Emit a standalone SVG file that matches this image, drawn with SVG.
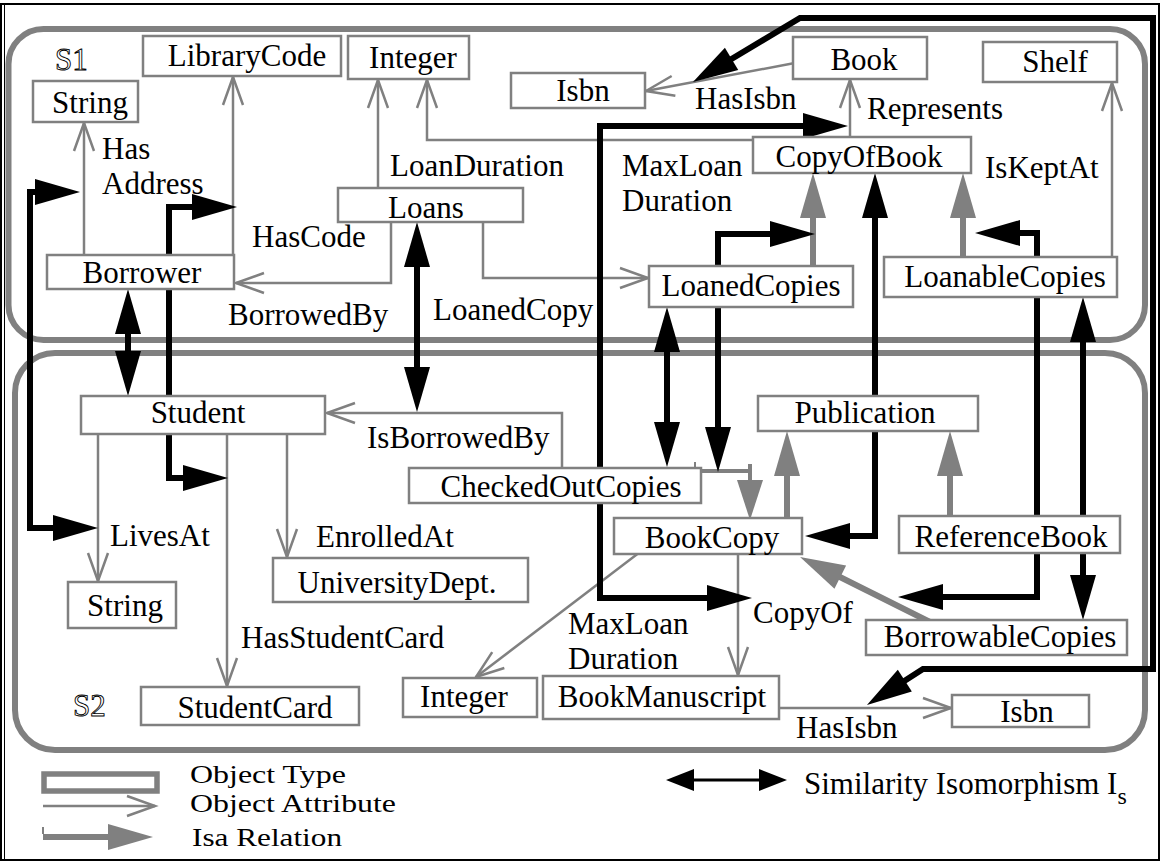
<svg xmlns="http://www.w3.org/2000/svg" width="1163" height="863" viewBox="0 0 1163 863">
  <style>
    .t { font-family: "Liberation Serif", "Times New Roman", serif; font-size: 31px; fill: #000; }
    .c { text-anchor: middle; }
    .lg { font-size: 25px; }
    .box { fill: #fff; stroke: #808080; stroke-width: 2.5; }
    .region { fill: none; stroke: #808080; stroke-width: 6; }
    .attr { fill: none; stroke: #808080; stroke-width: 2.5; marker-end: url(#open); }
    .isa { fill: none; stroke: #808080; stroke-width: 6; marker-end: url(#isa); }
    .sim { fill: none; stroke: #000; stroke-width: 6; marker-start: url(#blk); marker-end: url(#blk); }
    .sym { font-family: "Liberation Serif", "Times New Roman", serif; font-size: 31px; fill: #fff; stroke: #000; stroke-width: 0.9; }
  </style>
  <defs>
    <!-- open arrowhead for object attributes: tip sits on the path end -->
    <marker id="open" markerUnits="userSpaceOnUse" viewBox="-31 -13 35 26" refX="0" refY="0" markerWidth="35" markerHeight="26" orient="auto" overflow="visible">
      <path d="M-28,-10 L0,0 L-28,10" fill="none" stroke="#808080" stroke-width="2.5"/>
    </marker>
    <!-- filled heads: tip lies 25 units beyond the path end -->
    <marker id="blk" markerUnits="userSpaceOnUse" viewBox="-21 -14 48 28" refX="0" refY="0" markerWidth="48" markerHeight="28" orient="auto-start-reverse" overflow="visible">
      <path d="M-20,-13 L25,0 L-20,13 Z" fill="#000"/>
    </marker>
    <marker id="isa" markerUnits="userSpaceOnUse" viewBox="-21 -14 48 28" refX="0" refY="0" markerWidth="48" markerHeight="28" orient="auto" overflow="visible">
      <path d="M-20,-13 L25,0 L-20,13 Z" fill="#808080"/>
    </marker>
    <marker id="blkS" markerUnits="userSpaceOnUse" viewBox="-15 -12 30 24" refX="0" refY="0" markerWidth="30" markerHeight="24" orient="auto-start-reverse" overflow="visible">
      <path d="M-14,-11 L14,0 L-14,11 Z" fill="#000"/>
    </marker>
  </defs>

  <rect x="0" y="0" width="1163" height="863" fill="#fff"/>
  <!-- outer frame -->
  <rect x="1" y="4" width="1158" height="856" fill="none" stroke="#000" stroke-width="2"/>
  <line x1="4.5" y1="4" x2="4.5" y2="860" stroke="#000" stroke-width="1"/>

  <!-- schema regions -->
  <g id="schema-s1">
    <rect class="region" x="8.5" y="29" width="1136.5" height="311" rx="35" ry="35"/>
    <text class="sym" x="55" y="70">S1</text>
  </g>
  <g id="schema-s2">
    <rect class="region" x="15" y="353" width="1130" height="397" rx="40" ry="40"/>
    <text class="sym" x="73" y="716">S2</text>
  </g>

  <g id="connectors">
    <!-- object attributes -->
    <path class="attr" d="M84,255 L84,123"/>
    <path class="attr" d="M233,255 L233,77"/>
    <path class="attr" d="M378,188 L378,80"/>
    <path class="attr" d="M391,222 L391,283 L236,283"/>
    <path class="attr" d="M483,222 L483,278 L648,278"/>
    <path class="attr" d="M753,140 L427,140 L427,80"/>
    <path class="attr" d="M800,62 L646,91"/>
    <path class="attr" d="M850,137 L850,80"/>
    <path class="attr" d="M1112,257 L1112,83"/>
    <path class="attr" d="M98,434 L98,581"/>
    <path class="attr" d="M227,434 L227,686"/>
    <path class="attr" d="M287,434 L287,557"/>
    <path class="attr" d="M562,468 L562,413 L327,413"/>
    <path class="attr" d="M640,552 L476,677"/>
    <path class="attr" d="M738,554 L738,675"/>
    <path class="attr" d="M780,708 L951,708"/>

    <!-- isa relations -->
    <path class="isa" d="M813,266 L813,198"/>
    <path class="isa" d="M963,257 L963,198"/>
    <path class="isa" d="M787,518 L787,456"/>
    <path class="isa" d="M950,516 L950,456"/>
    <path class="isa" d="M930,622 L822.4,568.2"/>
    <line x1="695" y1="462" x2="695" y2="471" stroke="#808080" stroke-width="2"/>
    <line x1="695" y1="471" x2="750" y2="471" stroke="#808080" stroke-width="4"/>
    <line x1="750" y1="464" x2="750" y2="482" stroke="#808080" stroke-width="4"/>
    <polygon points="737,480 763,480 750,520" fill="#808080"/>

    <!-- similarity isomorphism -->
    <path class="sim" d="M128,314 L128,371"/>
    <path class="sim" d="M55,192 L30,192 L30,528 L73,528"/>
    <path class="sim" d="M212,207 L169,207 L169,478 L203,478"/>
    <path class="sim" d="M417,247 L417,387"/>
    <path class="sim" d="M667,332 L667,442"/>
    <path class="sim" d="M790,234 L718,234 L718,447" stroke-width="8"/>
    <path class="sim" d="M823,126 L600,126 L600,598 L727,598"/>
    <path class="sim" d="M875,198 L875,536 L830,536"/>
    <path class="sim" d="M1000,233 L1037,233 L1037,597 L923,597"/>
    <path class="sim" d="M1083,322 L1083,595"/>
    <path class="sim" d="M714.4,69.2 L800,18 L1153,18 L1153,669 L923,669 L888,691.5"/>
  </g>

  <!-- S1 object types -->
  <g id="n-string1"><rect class="box" x="33" y="81" width="105" height="41"/><text class="t c" x="90" y="113">String</text></g>
  <g id="n-librarycode"><rect class="box" x="143" y="36" width="198" height="40"/><text class="t c" x="247" y="66">LibraryCode</text></g>
  <g id="n-integer1"><rect class="box" x="348" y="36" width="121" height="43"/><text class="t c" x="413" y="68">Integer</text></g>
  <g id="n-isbn1"><rect class="box" x="511" y="73" width="134" height="35"/><text class="t c" x="583" y="101">Isbn</text></g>
  <g id="n-book"><rect class="box" x="793" y="37" width="134" height="42"/><text class="t c" x="864" y="70">Book</text></g>
  <g id="n-shelf"><rect class="box" x="983" y="42" width="134" height="40"/><text class="t c" x="1055" y="72">Shelf</text></g>
  <g id="n-copyofbook"><rect class="box" x="753" y="137" width="218" height="36"/><text class="t c" x="859" y="167">CopyOfBook</text></g>
  <g id="n-loans"><rect class="box" x="338" y="188" width="185" height="34"/><text class="t c" x="426" y="218">Loans</text></g>
  <g id="n-borrower"><rect class="box" x="47" y="255" width="187" height="34"/><text class="t c" x="142" y="283">Borrower</text></g>
  <g id="n-loanedcopies"><rect class="box" x="649" y="266" width="204" height="41"/><text class="t c" x="751" y="296">LoanedCopies</text></g>
  <g id="n-loanablecopies"><rect class="box" x="884" y="257" width="233" height="40"/><text class="t c" x="1005" y="287">LoanableCopies</text></g>

  <!-- S2 object types -->
  <g id="n-student"><rect class="box" x="81" y="396" width="244" height="38"/><text class="t c" x="198" y="423">Student</text></g>
  <g id="n-publication"><rect class="box" x="758" y="396" width="220" height="35"/><text class="t c" x="865" y="423">Publication</text></g>
  <g id="n-checkedoutcopies"><rect class="box" x="409" y="468" width="292" height="35"/><text class="t c" x="561" y="497">CheckedOutCopies</text></g>
  <g id="n-bookcopy"><rect class="box" x="614" y="518" width="188" height="36"/><text class="t c" x="712" y="548">BookCopy</text></g>
  <g id="n-referencebook"><rect class="box" x="899" y="516" width="221" height="37"/><text class="t c" x="1011" y="547">ReferenceBook</text></g>
  <g id="n-string2"><rect class="box" x="68" y="582" width="108" height="46"/><text class="t c" x="125" y="616">String</text></g>
  <g id="n-universitydept"><rect class="box" x="273" y="558" width="255" height="44"/><text class="t c" x="397" y="593">UniversityDept.</text></g>
  <g id="n-borrowablecopies"><rect class="box" x="866" y="620" width="261" height="35"/><text class="t c" x="1000" y="647">BorrowableCopies</text></g>
  <g id="n-studentcard"><rect class="box" x="141" y="687" width="218" height="38"/><text class="t c" x="255" y="718">StudentCard</text></g>
  <g id="n-integer2"><rect class="box" x="403" y="678" width="134" height="39"/><text class="t c" x="464" y="707">Integer</text></g>
  <g id="n-bookmanuscript"><rect class="box" x="543" y="676" width="236" height="43"/><text class="t c" x="662" y="707">BookManuscript</text></g>
  <g id="n-isbn2"><rect class="box" x="952" y="695" width="137" height="32"/><text class="t c" x="1027" y="722">Isbn</text></g>

  <!-- attribute labels -->
  <g id="labels">
    <text class="t" x="102" y="159">Has</text>
    <text class="t" x="102" y="194">Address</text>
    <text class="t" x="252" y="247">HasCode</text>
    <text class="t" x="390" y="176">LoanDuration</text>
    <text class="t" x="228" y="325">BorrowedBy</text>
    <text class="t" x="433" y="320">LoanedCopy</text>
    <text class="t" x="622" y="176">MaxLoan</text>
    <text class="t" x="622" y="211">Duration</text>
    <text class="t" x="695" y="109">HasIsbn</text>
    <text class="t" x="867" y="119">Represents</text>
    <text class="t" x="985" y="178">IsKeptAt</text>
    <text class="t" x="367" y="448">IsBorrowedBy</text>
    <text class="t" x="110" y="546">LivesAt</text>
    <text class="t" x="316" y="547">EnrolledAt</text>
    <text class="t" x="241" y="648">HasStudentCard</text>
    <text class="t" x="568" y="634">MaxLoan</text>
    <text class="t" x="568" y="669">Duration</text>
    <text class="t" x="753" y="623">CopyOf</text>
    <text class="t" x="796" y="738">HasIsbn</text>
  </g>

  <!-- legend -->
  <g id="legend">
    <rect x="44" y="774" width="113" height="17" fill="#fff" stroke="#808080" stroke-width="5.5"/>
    <path d="M43,806 L155,806" fill="none" stroke="#808080" stroke-width="2.5" marker-end="url(#open)"/>
    <line x1="43" y1="827" x2="43" y2="834" stroke="#808080" stroke-width="2"/>
    <path d="M43,837 L128,837" fill="none" stroke="#808080" stroke-width="6" marker-end="url(#isa)"/>
    <text class="t lg" x="190" y="783" textLength="156" lengthAdjust="spacingAndGlyphs">Object Type</text>
    <text class="t lg" x="190" y="812" textLength="206" lengthAdjust="spacingAndGlyphs">Object Attribute</text>
    <text class="t lg" x="192" y="846" textLength="150" lengthAdjust="spacingAndGlyphs">Isa Relation</text>
    <path d="M680,780 L773,780" fill="none" stroke="#000" stroke-width="3" marker-start="url(#blkS)" marker-end="url(#blkS)"/>
    <text class="t" x="804" y="794">Similarity Isomorphism I<tspan dy="10" font-size="24">s</tspan></text>
  </g>
</svg>
